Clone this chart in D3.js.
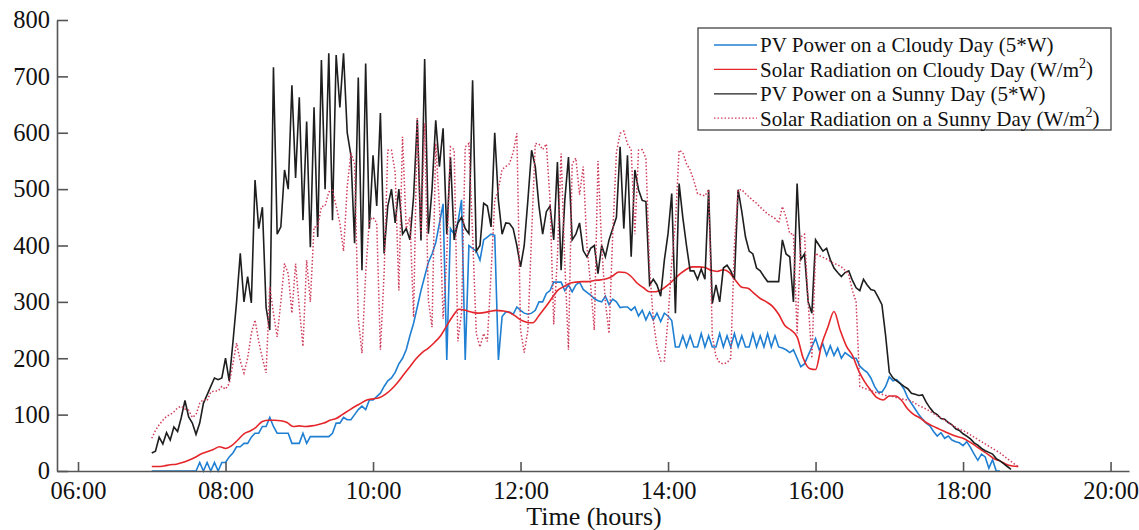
<!DOCTYPE html>
<html>
<head>
<meta charset="utf-8">
<script src="https://cdn.jsdelivr.net/npm/d3@7"></script>
<style>
  body { margin: 0; background: #fff; }
  text { font-family: "Liberation Serif", "Times New Roman", serif; fill: #111; }
</style>
</head>
<body>
<div id="chart-container"></div>
<script>
// readings every 3 minutes from 07:00 (sunny day + cloudy PV), every 5 minutes for cloudy radiation
var pvCloudy = [0,0,0,0,0,0,0,0,0,0,
  0,0,0,15,0,15,0,15,0,15,
  15,25,32,43,43,49,49,60,67,67,
  79,79,95,79,67,67,67,67,49,49,
  49,67,49,61,61,61,61,61,61,67,
  85,85,95,91,91,100,109,115,109,126,
  126,132,138,150,160,165,175,190,200,215,
  240,262,291,320,345,370,385,405,439,474,
  197,430,420,440,481,197,400,395,390,374,
  410,415,420,418,197,274,282,282,278,291,
  285,280,278,280,285,300,300,315,320,335,
  335,335,320,330,318,330,335,322,317,312,
  306,302,300,310,295,305,300,290,291,291,
  285,291,275,285,268,282,268,280,265,280,
  275,267,220,220,240,220,240,220,220,244,
  220,240,220,220,244,220,240,220,244,220,
  240,220,220,244,220,240,220,244,220,240,
  220,218,215,210,215,200,185,190,205,220,
  235,215,225,205,222,205,218,200,210,205,
  200,200,186,180,175,165,150,140,140,150,
  167,160,162,155,145,130,120,110,100,92,
  85,80,70,62,68,58,62,55,52,50,
  45,52,42,30,19,30,25,5,20,0,
  0];

var radCloudy = [8,8,9,11,12,15,19,24,30,34,
  38,43,40,45,55,66,71,78,88,90,
  90,89,86,79,80,79,80,82,85,90,
  93,100,107,114,120,126,128,130,136,145,
  157,171,185,199,210,218,228,240,258,275,
  287,285,282,280,281,283,285,284,282,276,
  268,264,263,276,290,305,320,327,333,335,
  336,336,338,339,341,346,353,352,345,333,
  325,318,318,322,330,340,350,358,362,362,
  361,356,354,357,352,338,326,324,315,306,
  300,292,278,258,250,238,200,182,180,225,
  255,283,250,222,205,178,158,143,130,126,
  133,133,125,110,100,94,86,80,75,70,
  65,61,58,52,45,37,30,22,18,12,
  9,8];

var pvSunny = [32,35,60,48,68,55,78,70,95,125,
  96,85,65,85,120,135,150,165,162,165,
  200,160,228,300,386,300,345,298,516,430,
  468,290,250,716,420,433,534,500,684,520,
  663,445,620,397,645,415,729,500,741,445,
  738,645,741,600,560,404,698,356,723,430,
  560,470,635,386,470,500,440,500,420,430,
  410,487,623,409,731,421,500,622,540,608,
  420,557,410,440,450,430,421,693,390,400,
  475,470,433,600,480,420,440,439,430,400,
  362,400,481,569,540,470,420,460,470,410,
  548,356,480,557,410,420,440,391,380,395,
  400,350,400,380,410,430,450,575,430,560,
  380,534,499,480,478,330,340,330,310,374,
  421,492,280,510,450,400,355,355,340,358,
  340,499,297,330,300,360,365,355,340,499,
  460,415,390,385,360,355,345,336,336,336,
  336,410,385,380,300,510,375,385,300,280,
  410,400,390,395,375,360,352,345,352,355,
  338,325,320,340,330,322,320,308,295,240,
  175,165,160,155,150,146,138,136,134,135,
  122,112,104,100,93,92,86,82,75,72,
  66,62,57,50,46,40,36,33,30,22,
  18,13,8,3];

var radSunny = [58,72,82,90,97,100,105,112,115,110,
  108,95,100,120,127,125,140,142,142,150,
  145,155,190,227,195,174,200,244,268,230,
  200,174,327,280,238,300,368,350,280,368,
  290,221,374,300,433,433,469,470,495,498,
  470,440,390,504,564,545,270,209,350,445,
  450,440,215,350,569,569,530,320,593,430,
  450,273,628,420,617,303,255,581,470,270,
  380,575,570,230,280,575,581,420,244,220,
  244,230,350,480,500,535,540,545,565,599,
  250,210,250,420,581,580,570,580,480,260,
  380,563,370,215,545,555,490,540,400,330,
  250,550,400,300,244,420,565,599,603,580,
  570,420,569,570,555,360,268,220,195,195,
  270,370,440,569,565,545,534,515,492,490,
  488,499,240,203,192,190,192,200,400,499,
  499,492,486,480,475,468,462,456,452,448,
  440,469,450,421,421,244,415,420,300,200,
  386,382,379,376,372,368,366,362,356,348,
  320,300,150,147,145,143,140,138,136,134,
  133,132,130,128,127,126,124,120,116,113,
  110,106,102,98,94,90,86,82,78,74,
  72,68,64,60,56,52,48,44,40,36,
  32,27,22,17,12,8];

var xTicks = [6, 8, 10, 12, 14, 16, 18, 20];
var yTicks = [0, 100, 200, 300, 400, 500, 600, 700, 800];
var seriesNames = ["PV Power on a Cloudy Day (5*W)", "Solar Radiation on Cloudy Day (W/m", "PV Power on a Sunny Day (5*W)", "Solar Radiation on a Sunny Day (W/m"];
var seriesColors = ["#1f7fd2", "#e4262b", "#1e1e1e", "#cf3d5c"];

var width = 1139;
var height = 530;

var x = d3.scaleLinear().domain([5.715, 20.25]).range([57, 1129]);
var y = d3.scaleLinear().domain([0, 800]).range([471, 20]);

var svg = d3.select("#chart-container")
    .append("svg")
    .attr("width", width)
    .attr("height", height);

function points(values, stepMinutes) {
    return values.map(function(v, i) { return [7 + i * stepMinutes / 60, v]; });
}

var line = d3.line()
    .x(function(d) { return x(d[0]); })
    .y(function(d) { return y(d[1]); });

var smooth = d3.line()
    .curve(d3.curveMonotoneX)
    .x(function(d) { return x(d[0]); })
    .y(function(d) { return y(d[1]); });

svg.append("path")
    .attr("d", line(points(pvCloudy, 3)))
    .attr("fill", "none")
    .attr("stroke", seriesColors[0])
    .attr("stroke-width", 1.6);

svg.append("path")
    .attr("d", smooth(points(radCloudy, 5)))
    .attr("fill", "none")
    .attr("stroke", seriesColors[1])
    .attr("stroke-width", 1.6);

svg.append("path")
    .attr("d", line(points(pvSunny, 3)))
    .attr("fill", "none")
    .attr("stroke", seriesColors[2])
    .attr("stroke-width", 1.6);

svg.append("path")
    .attr("d", line(points(radSunny, 3)))
    .attr("fill", "none")
    .attr("stroke", seriesColors[3])
    .attr("stroke-width", 1.5)
    .attr("stroke-dasharray", "1.5,2");

// axes, MATLAB style ticks pointing inwards
svg.append("g")
    .attr("transform", "translate(0,471)")
    .call(d3.axisBottom(x)
        .tickValues(xTicks)
        .tickSizeInner(-9)
        .tickSizeOuter(0)
        .tickPadding(11)
        .tickFormat(function(d) { return (d < 10 ? "0" : "") + d + ":00"; }));

svg.append("g")
    .attr("transform", "translate(57,0)")
    .call(d3.axisLeft(y)
        .tickValues(yTicks)
        .tickSizeInner(-11)
        .tickSizeOuter(0)
        .tickPadding(7));

svg.selectAll(".domain, .tick line")
    .attr("stroke", "#555")
    .attr("stroke-width", 1.6);

svg.selectAll(".tick text")
    .attr("font-size", 24.5)
    .attr("fill", "#111");

svg.append("text")
    .attr("x", 594)
    .attr("y", 525)
    .attr("text-anchor", "middle")
    .attr("font-size", 26)
    .text("Time (hours)");

// legend
var legend = svg.append("g");

legend.append("rect")
    .attr("x", 698)
    .attr("y", 28)
    .attr("width", 413)
    .attr("height", 102)
    .attr("fill", "#fff")
    .attr("stroke", "#444")
    .attr("stroke-width", 1.3);

var rows = legend.selectAll("g.row")
    .data(seriesNames)
    .enter().append("g")
    .attr("class", "row")
    .attr("transform", function(d, i) { return "translate(0," + (45 + i * 24.4) + ")"; });

rows.append("line")
    .attr("x1", 714)
    .attr("x2", 757)
    .attr("stroke", function(d, i) { return seriesColors[i]; })
    .attr("stroke-width", 1.3)
    .attr("stroke-dasharray", function(d, i) { return i == 3 ? "1.5,2" : null; });

var labels = rows.append("text")
    .attr("x", 760)
    .attr("dy", "0.35em")
    .attr("font-size", 21);

labels.append("tspan").text(function(d) { return d; });
labels.filter(function(d, i) { return i == 1 || i == 3; })
    .each(function() {
        var t = d3.select(this);
        t.append("tspan").attr("font-size", 14).attr("dy", "-0.6em").text("2");
        t.append("tspan").attr("dy", "0.38em").text(")");
    });
</script>
</body>
</html>
